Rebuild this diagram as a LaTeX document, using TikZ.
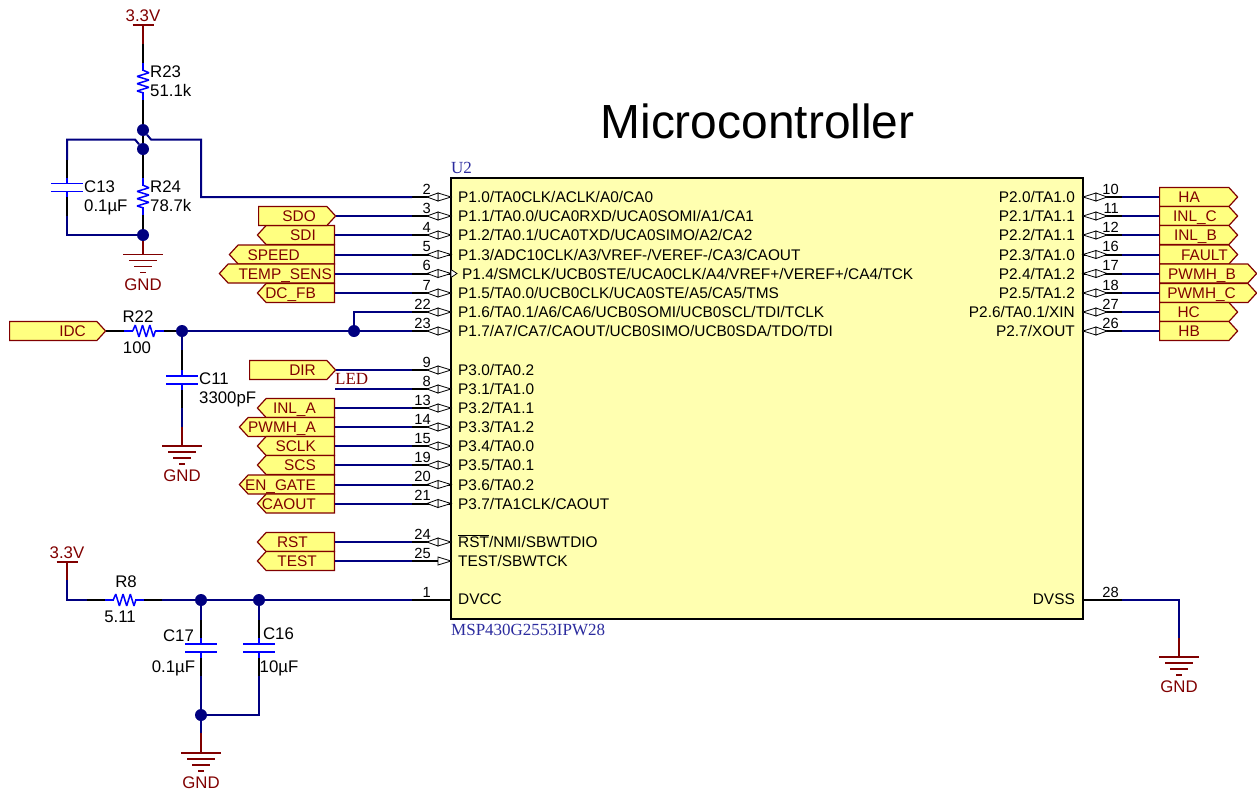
\documentclass[tikz,border=0pt]{standalone}
\usepackage{fontspec}
\setmainfont{Liberation Sans}
\newfontfamily\partfont{Liberation Serif}
\usepackage{circuitikz}
\usetikzlibrary{shapes.symbols}
\definecolor{netblue}{HTML}{000080}
\definecolor{compblue}{HTML}{0000FF}
\definecolor{pwrred}{HTML}{800000}
\definecolor{portfill}{HTML}{FFFF80}
\definecolor{chipfill}{HTML}{FFFFB0}
\definecolor{partblue}{HTML}{2B2B9E}
\ctikzset{bipoles/thickness=1, bipoles/capacitor/width=.2, bipoles/capacitor/height=.8, bipoles/resistor/width=.53}
\tikzset{
	net/.style={line width=2pt, netblue},
	lead/.style={line width=2pt, black},
	pwr/.style={line width=2pt, pwrred},
	resi/.style={line width=1.5pt, compblue},
	capa/.style={line width=1.8pt, compblue},
	dot/.style={circle, fill=netblue, inner sep=0pt, minimum size=12pt},
	txt/.style={inner sep=0pt, text height=12pt, text depth=0pt, font=\fontsize{16.8}{17}\selectfont},
	pintxt/.style={inner sep=0pt, text height=11pt, text depth=0pt, font=\fontsize{15.4}{16}\selectfont},
	numtxt/.style={inner sep=0pt, text height=10.5pt, text depth=0pt, font=\fontsize{14.7}{15}\selectfont, anchor=east},
	redtxt/.style={txt, pwrred},
	parttxt/.style={inner sep=0pt, text height=11.5pt, text depth=0pt, partblue, font=\partfont\fontsize{17}{18}\selectfont, anchor=west},
	port/.style={signal, draw=pwrred, fill=portfill, line width=1.2pt, inner sep=0pt, minimum height=19pt, signal pointer angle=95},
	porttxt/.style={pintxt, pwrred, anchor=east},
	pinglyph/.pic={
		\draw[line width=.8pt, black, fill=white] (0,0) -- (-13,-4) -- (-13,4) -- cycle;
		\draw[line width=.8pt, black, fill=white] (-24,0) -- (-13,-4) -- (-13,4) -- cycle;
	},
	pinin/.pic={
		\draw[line width=.8pt, black, fill=white] (0,0) -- (-13,-4) -- (-13,4) -- cycle;
	},
	gndsym/.pic={
		\draw[line width=1.6pt, pwrred] (-20,0) -- (20,0) (-14,6) -- (14,6) (-9,12) -- (9,12) (-3,18) -- (3,18);
	},
	vccsym/.pic={
		\draw[line width=1.6pt, pwrred] (-10.5,0) -- (10.5,0);
	}
}

\begin{document}
\begin{tikzpicture}[american, x=1pt, y=-1pt]
	\useasboundingbox (0,0) rectangle (1257,793);
	\node[inner sep=0pt, font=\fontsize{47.9}{48}\selectfont] (title) at (757.5,121) {Microcontroller};
	\node[draw=black, line width=2pt, fill=chipfill, inner sep=0pt, minimum width=632pt, minimum height=441pt] (u2) at (767,398.5) {};
	\node[parttxt] (u2ref) at (451,168) {U2};
	\node[parttxt] (u2val) at (451,630) {MSP430G2553IPW28};

	\foreach \pn/\y/\pinname in {2/197/{P1.0/TA0CLK/ACLK/A0/CA0}, 3/216/{P1.1/TA0.0/UCA0RXD/UCA0SOMI/A1/CA1}, 4/235/{P1.2/TA0.1/UCA0TXD/UCA0SIMO/A2/CA2}, 5/254.5/{P1.3/ADC10CLK/A3/VREF-/VEREF-/CA3/CAOUT}, 7/293/{P1.5/TA0.0/UCB0CLK/UCA0STE/A5/CA5/TMS}, 22/312/{P1.6/TA0.1/A6/CA6/UCB0SOMI/UCB0SCL/TDI/TCLK}, 23/331/{P1.7/A7/CA7/CAOUT/UCB0SIMO/UCB0SDA/TDO/TDI}, 9/370/{P3.0/TA0.2}, 8/389/{P3.1/TA1.0}, 13/408/{P3.2/TA1.1}, 14/427/{P3.3/TA1.2}, 15/446/{P3.4/TA0.0}, 19/465/{P3.5/TA0.1}, 20/484.5/{P3.6/TA0.2}, 21/503.5/{P3.7/TA1CLK/CAOUT}, 24/542/{$\overline{\mbox{RST}}$/NMI/SBWTDIO}, 6/273.5/{}} {
		\coordinate (a\pn) at (451,\y);
		\coordinate (b\pn) at (412,\y);
		\draw[lead] (b\pn) -- (a\pn);
		\pic at (a\pn) {pinglyph};
		\node[numtxt] (n\pn) at (431,\y-8) {\pn};
		\node[pintxt, anchor=west] (t\pn) at (458,\y) {\pinname};
	}
	\node[pintxt, anchor=west] (t6) at (462,273.5) {P1.4/SMCLK/UCB0STE/UCA0CLK/A4/VREF+/VEREF+/CA4/TCK};
	\draw[line width=.8pt, black, fill=white] (451,269.5) -- (457,273.5) -- (451,277.5) -- cycle;

	\coordinate (a25) at (451,561);
	\coordinate (b25) at (412,561);
	\draw[lead] (b25) -- (a25);
	\pic at (a25) {pinin};
	\node[numtxt] (n25) at (431,553) {25};
	\node[pintxt, anchor=west] (t25) at (458,561) {TEST/SBWTCK};
	\coordinate (a1) at (451,600);
	\coordinate (b1) at (412,600);
	\draw[lead] (b1) -- (a1);
	\node[numtxt] (n1) at (431,592) {1};
	\node[pintxt, anchor=west] (t1) at (458,599) {DVCC};

	\foreach \pn/\y/\pinname in {10/197/{P2.0/TA1.0}, 11/216/{P2.1/TA1.1}, 12/235/{P2.2/TA1.1}, 16/254.5/{P2.3/TA1.0}, 17/273.5/{P2.4/TA1.2}, 18/293/{P2.5/TA1.2}, 27/312/{P2.6/TA0.1/XIN}, 26/331/{P2.7/XOUT}} {
		\coordinate (a\pn) at (1083,\y);
		\coordinate (b\pn) at (1122,\y);
		\draw[lead] (b\pn) -- (a\pn);
		\pic[xscale=-1] at (a\pn) {pinglyph};
		\node[numtxt] (n\pn) at (1119,\y-8) {\pn};
		\node[pintxt, anchor=east] (t\pn) at (1075,\y) {\pinname};
	}
	\coordinate (a28) at (1083,600);
	\coordinate (b28) at (1122,600);
	\draw[lead] (b28) -- (a28);
	\node[numtxt] (n28) at (1119,592) {28};
	\node[pintxt, anchor=east] (t28) at (1075,599) {DVSS};

	\foreach \pn/\nm/\lx/\tx/\name in {4/sdi/258/316/SDI, 5/speed/230/300/SPEED, 6/temp/220/332/TEMP\_SENS, 7/dcfb/258/316/DC\_FB, 13/inla/258/316/INL\_A, 14/pwmha/240/316/PWMH\_A, 15/sclk/258/316/SCLK, 19/scs/258/316/SCS, 20/engate/240/316/EN\_GATE, 21/caout/258/316/CAOUT, 24/rst/258/308/RST, 25/test/258/317/TEST} {
		\node[port, signal to=west, minimum width={335-\lx}, anchor=east] (\nm) at (335,0 |- a\pn) {};
		\node[porttxt] (\nm txt) at (\tx,0 |- a\pn) {\name};
		\draw[net] (\nm.east) -- (b\pn);
	}
	\foreach \pn/\nm/\lx/\tx/\name in {3/sdo/258/316/SDO, 9/dirp/249/316/DIR} {
		\node[port, signal to=east, minimum width={335-\lx}, anchor=west] (\nm) at (\lx,0 |- a\pn) {};
		\node[porttxt] (\nm txt) at (\tx,0 |- a\pn) {\name};
		\draw[net] (\nm.east) -- (b\pn);
	}
	\foreach \pn/\nm/\rx/\tx/\name in {10/ha/1237/1200/HA, 11/inlc/1237/1217/INL\_C, 12/inlb/1237/1217/INL\_B, 16/fault/1237/1228/FAULT, 17/pwmhb/1256/1236/PWMH\_B, 18/pwmhc/1256/1236/PWMH\_C, 27/hc/1237/1200/HC, 26/hb/1237/1200/HB} {
		\node[port, signal to=east, minimum width={\rx-1159}, anchor=west] (\nm) at (1159,0 |- a\pn) {};
		\node[porttxt] (\nm txt) at (\tx,0 |- a\pn) {\name};
		\draw[net] (\nm.west) -- (b\pn);
	}
	\node[port, signal to=east, minimum width=96pt, anchor=west] (idc) at (9,331) {};
	\node[porttxt] (idctxt) at (86,331) {IDC};
	\node[inner sep=0pt, text height=11.5pt, text depth=0pt, pwrred, font=\partfont\fontsize{17}{18}\selectfont, anchor=west] (ledtxt) at (335,379) {LED};
	\coordinate (led) at (335,389);
	\draw[net] (led) -- (b8);

	\node[redtxt] (v1) at (143,15) {3.3V};
	\coordinate (v1b) at (143,25);
	\pic at (v1b) {vccsym};
	\coordinate (r23a) at (143,63);
	\coordinate (r23b) at (143,100);
	\node[dot] (j1) at (143,130) {};
	\node[dot] (j2) at (143,149) {};
	\draw[pwr] (v1b) -- ++(0,19) coordinate (v1c);
	\draw[lead] (v1c) -- (r23a);
	\draw[resi] (r23a) to[R] (r23b);
	\draw[lead] (r23b) -- (j1);
	\node[txt, anchor=west] (r23ref) at (150,71) {R23};
	\node[txt, anchor=west] (r23val) at (150,90) {51.1k};
	\draw[lead] (j1) -- (j2);
	\draw[net] (j1) -- (151,139.5) -- (201,139.5) -- (201,197) -- (b2);
	\draw[net] (j2) -- (135,139.5) -- (67,139.5) -- (67,160) coordinate (c13t);
	\coordinate (c13a) at (67,178);
	\coordinate (c13b) at (67,197);
	\node[dot] (j3) at (143,235) {};
	\draw[lead] (c13t) -- (c13a);
	\draw[capa] (c13a) to[C] (c13b);
	\draw[lead] (c13b) -- ++(0,19) coordinate (c13d);
	\draw[net] (c13d) -- (67,235) -- (j3);
	\node[txt, anchor=west] (c13ref) at (84,186) {C13};
	\node[txt, anchor=west] (c13val) at (84,205) {0.1µF};
	\coordinate (r24a) at (143,178);
	\coordinate (r24b) at (143,215);
	\draw[lead] (j2) -- (r24a);
	\draw[resi] (r24a) to[R] (r24b);
	\draw[lead] (r24b) -- (j3);
	\node[txt, anchor=west] (r24ref) at (150,186) {R24};
	\node[txt, anchor=west] (r24val) at (150,205) {78.7k};
	\coordinate (g1) at (143,254.5);
	\draw[pwr] (j3) -- (g1);
	\pic at (g1) {gndsym};
	\node[redtxt] (g1txt) at (143,284) {GND};

	\coordinate (r22a) at (124,331);
	\coordinate (r22b) at (164,331);
	\node[dot] (j4) at (182,331) {};
	\node[dot] (j5) at (354,331) {};
	\draw[lead] (idc.east) -- (r22a);
	\draw[resi] (r22a) to[R] (r22b);
	\draw[lead] (r22b) -- (j4);
	\draw[net] (j4) -- (j5);
	\draw[net] (j5) -- (b23);
	\draw[net] (j5) -- (354,312) -- (b22);
	\node[txt] (r22ref) at (138,316) {R22};
	\node[txt] (r22val) at (137,347) {100};
	\coordinate (c11a) at (182,370);
	\coordinate (c11b) at (182,390);
	\coordinate (g2) at (182,446);
	\draw[net] (j4) -- ++(0,19) coordinate (c11t);
	\draw[lead] (c11t) -- (c11a);
	\draw[capa] (c11a) to[C] (c11b);
	\draw[lead] (c11b) -- ++(0,18) coordinate (c11d);
	\draw[net] (c11d) -- ++(0,19) coordinate (c11e);
	\draw[pwr] (c11e) -- (g2);
	\pic at (g2) {gndsym};
	\node[txt, anchor=west] (c11ref) at (199,378) {C11};
	\node[txt, anchor=west] (c11val) at (199,397) {3300pF};
	\node[redtxt] (g2txt) at (182,475) {GND};

	\node[redtxt] (v2) at (67,552) {3.3V};
	\coordinate (v2b) at (67,562);
	\pic at (v2b) {vccsym};
	\coordinate (r8a) at (105,600);
	\coordinate (r8b) at (144,600);
	\node[dot] (j6) at (201,600) {};
	\node[dot] (j7) at (259,600) {};
	\node[dot] (j8) at (201,715) {};
	\draw[pwr] (v2b) -- ++(0,18) coordinate (v2c);
	\draw[net] (v2c) -- (67,600) -- (87,600) coordinate (r8l);
	\draw[lead] (r8l) -- (r8a);
	\draw[resi] (r8a) to[R] (r8b);
	\draw[lead] (r8b) -- ++(18,0) coordinate (r8r);
	\draw[net] (r8r) -- (j6);
	\draw[net] (j6) -- (j7);
	\draw[net] (j7) -- (b1);
	\node[txt] (r8ref) at (126,581) {R8};
	\node[txt] (r8val) at (120,616) {5.11};
	\foreach \nm/\cx/\jn in {c17/201/j6, c16/259/j7} {
		\coordinate (\nm a) at (\cx,638);
		\coordinate (\nm b) at (\cx,658);
		\draw[net] (\jn) -- (\cx,620) coordinate (\nm t);
		\draw[lead] (\nm t) -- (\nm a);
		\draw[capa] (\nm a) to[C] (\nm b);
		\draw[lead] (\nm b) -- ++(0,18) coordinate (\nm d);
	}
	\draw[net] (c17d) -- (j8);
	\draw[net] (c16d) -- (259,715) -- (j8);
	\coordinate (g3) at (201,753);
	\draw[net] (j8) -- ++(0,18) coordinate (g3t);
	\draw[pwr] (g3t) -- (g3);
	\pic at (g3) {gndsym};
	\node[redtxt] (g3txt) at (201,782) {GND};
	\node[txt] (c17ref) at (178.5,635) {C17};
	\node[txt] (c17val) at (173.5,666) {0.1µF};
	\node[txt] (c16ref) at (278.5,633) {C16};
	\node[txt] (c16val) at (279,666) {10µF};

	\coordinate (g4) at (1179,657);
	\draw[net] (b28) -- (1179,600) -- (1179,638) coordinate (g4t);
	\draw[pwr] (g4t) -- (g4);
	\pic at (g4) {gndsym};
	\node[redtxt] (g4txt) at (1179,686) {GND};
\end{tikzpicture}
\end{document}
